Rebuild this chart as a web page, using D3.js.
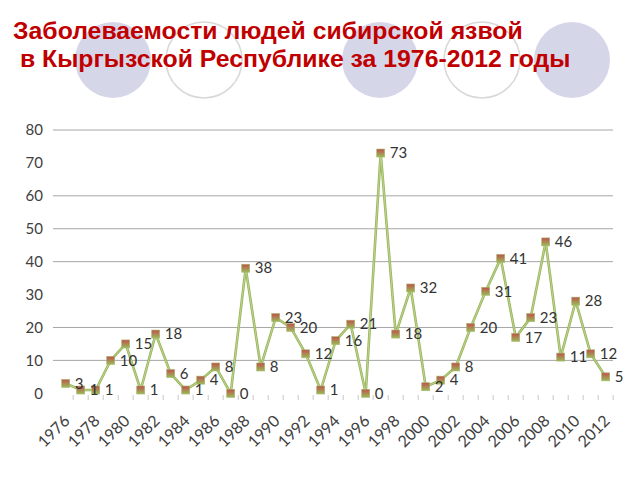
<!DOCTYPE html>
<html>
<head>
<meta charset="utf-8">
<script src="https://cdn.jsdelivr.net/npm/d3@7/dist/d3.min.js"></script>
<style>
  body { margin: 0; background: #fff; }
  svg { display: block; }
</style>
</head>
<body>
<svg id="chart" width="640" height="480"></svg>
<script>
const years = d3.range(1976, 2013);
const cases = [3, 1, 1, 10, 15, 1, 18, 6, 1, 4, 8, 0, 38, 8, 23, 20, 12, 1, 16, 21,
    0, 73, 18, 32, 2, 4, 8, 20, 31, 41, 17, 23, 46, 11, 28, 12, 5];
const yTicks = [0, 10, 20, 30, 40, 50, 60, 70, 80];
const gridTicks = [10, 20, 40, 50, 60, 80];   // 30 and 70 don't show in the picture
const titleLines = ["Заболеваемости людей сибирской язвой", " в Кыргызской Республике за 1976-2012 годы"];

// decorative circles behind the title
const circles = [
    { cx: 113, filled: true },
    { cx: 204, filled: false },
    { cx: 380, filled: true },
    { cx: 482, filled: false },
    { cx: 572, filled: true }
];

const svg = d3.select("#chart");

const defs = svg.append("defs");
const grad = defs.append("linearGradient")
    .attr("id", "markerGrad")
    .attr("x1", 0).attr("y1", 0).attr("x2", 0).attr("y2", 1);
grad.append("stop").attr("offset", "0%").attr("stop-color", "#c0504d");
grad.append("stop").attr("offset", "100%").attr("stop-color", "#9bbb59");

svg.selectAll("circle.deco")
    .data(circles)
    .enter().append("circle")
    .attr("class", "deco")
    .attr("cx", d => d.cx)
    .attr("cy", 60)
    .attr("r", 38)
    .attr("fill", d => d.filled ? "#d6d6e9" : "#fff")
    .attr("stroke", d => d.filled ? "none" : "#d8d8d8")
    .attr("stroke-width", 1.5);

svg.selectAll("text.title")
    .data(titleLines)
    .enter().append("text")
    .attr("class", "title")
    .attr("x", 13)
    .attr("y", (d, i) => 39 + i * 28)
    .attr("xml:space", "preserve")
    .style("white-space", "pre")
    .attr("font-family", "'Liberation Sans', Arial, sans-serif")
    .attr("font-weight", "bold")
    .attr("font-size", 24.8)
    .attr("fill", "#c00000")
    .text(d => d);

const x = d3.scalePoint().domain(years).range([65.7, 605.7]);
const y = d3.scaleLinear().domain([0, 80]).range([393.3, 130]);
const step = x.step();

const font = "Lato, 'Open Sans', sans-serif";

// gridlines
svg.append("g")
    .selectAll("line")
    .data(gridTicks)
    .enter().append("line")
    .attr("x1", 53).attr("x2", 613)
    .attr("y1", d => y(d)).attr("y2", d => y(d))
    .attr("stroke", "#a6a6a6")
    .attr("stroke-width", 1);

// y labels
svg.append("g")
    .selectAll("text")
    .data(yTicks)
    .enter().append("text")
    .attr("x", 43)
    .attr("y", d => y(d))
    .attr("dy", "0.35em")
    .attr("text-anchor", "end")
    .attr("font-family", font)
    .attr("font-size", 15)
    .attr("fill", "#404040")
    .text(d => d);

// small category ticks under the baseline
svg.append("g")
    .selectAll("line")
    .data(years)
    .enter().append("line")
    .attr("x1", d => x(d) + step / 2).attr("x2", d => x(d) + step / 2)
    .attr("y1", 395).attr("y2", 400)
    .attr("stroke", "#c8c8c8");

// x labels, every other year
svg.append("g")
    .selectAll("text")
    .data(years.filter((d, i) => i % 2 === 0))
    .enter().append("text")
    .attr("transform", d => `translate(${x(d) + 5},422) rotate(-45)`)
    .attr("text-anchor", "end")
    .attr("font-family", font)
    .attr("font-size", 16)
    .attr("fill", "#404040")
    .text(d => d);

const pts = years.map((yr, i) => ({ year: yr, v: cases[i] }));

const line = d3.line().x(d => x(d.year)).y(d => y(d.v));
svg.append("path")
    .datum(pts)
    .attr("d", line)
    .attr("fill", "none")
    .attr("stroke", "#98b55a")
    .attr("stroke-width", 2.6)
    .attr("stroke-linejoin", "round");
svg.append("path")
    .datum(pts)
    .attr("d", line)
    .attr("fill", "none")
    .attr("stroke", "#cfe0a8")
    .attr("stroke-width", 0.7);

svg.append("g")
    .selectAll("rect")
    .data(pts)
    .enter().append("rect")
    .attr("x", d => x(d.year) - 4)
    .attr("y", d => y(d.v) - 4)
    .attr("width", 8)
    .attr("height", 8)
    .attr("fill", "url(#markerGrad)")
    .attr("stroke", "#a4b86a")
    .attr("stroke-width", 0.6);

// data labels
svg.append("g")
    .selectAll("text")
    .data(pts)
    .enter().append("text")
    .attr("x", d => x(d.year) + 9)
    .attr("y", d => y(d.v))
    .attr("dy", "0.35em")
    .attr("font-family", font)
    .attr("font-size", 15)
    .attr("fill", "#333")
    .text(d => d.v);
</script>
</body>
</html>
